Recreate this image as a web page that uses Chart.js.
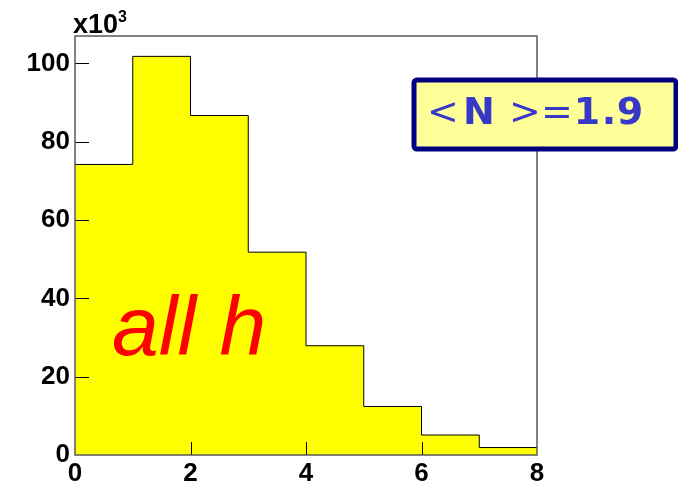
<!DOCTYPE html>
<html>
<head>
<meta charset="utf-8">
<title>Multiplicity</title>
<script src="https://cdn.jsdelivr.net/npm/chart.js@4.4.1/dist/chart.umd.min.js"></script>
<style>
  html, body { margin: 0; padding: 0; background: #ffffff; }
  #wrap { width: 678px; height: 486px; }
</style>
</head>
<body>
<div id="wrap"><canvas id="myChart" width="678" height="486"></canvas></div>
<script>
'use strict';

// bin edges and counts per bin (units of 10^3)
var binEdges = [0, 1, 2, 3, 4, 5, 6, 7, 8];
var binCounts = [74.2, 101.8, 86.7, 51.8, 27.9, 12.4, 5.1, 1.9];
var xTicks = [0, 2, 4, 6, 8];
var yTicks = [0, 20, 40, 60, 80, 100];
var meanLabel = ['<', 'N', '>', '=', '1', '.', '9'];
var histLabel = 'all h';

// stepped line needs one extra point to close the last bin
var points = [];
for (var i = 0; i < binEdges.length; i++) {
  var c = i < binCounts.length ? binCounts[i] : binCounts[binCounts.length - 1];
  points.push({ x: binEdges[i], y: c });
}

// frame, inside tick marks and the text boxes
var decorations = {
  id: 'decorations',
  afterDatasetsDraw: function (chart) {
    var ctx = chart.ctx;
    var area = chart.chartArea;
    var xs = chart.scales.x;
    var ys = chart.scales.y;
    ctx.save();

    ctx.strokeStyle = '#000000';
    ctx.lineWidth = 1;
    ctx.beginPath();
    yTicks.forEach(function (v) {
      if (v === 0) return;
      var py = Math.round(ys.getPixelForValue(v)) + 0.5;
      ctx.moveTo(area.left, py);
      ctx.lineTo(area.left + 14, py);
    });
    xTicks.forEach(function (v) {
      if (v === 0 || v === 8) return;
      var px = Math.round(xs.getPixelForValue(v)) + 0.5;
      ctx.moveTo(px, area.bottom);
      ctx.lineTo(px, area.bottom - 13);
    });
    ctx.stroke();

    ctx.strokeStyle = '#5a5a5a';
    ctx.lineWidth = 1.5;
    ctx.strokeRect(area.left, area.top, area.right - area.left, area.bottom - area.top);
    ctx.restore();
  },
  afterDraw: function (chart) {
    var ctx = chart.ctx;
    ctx.save();

    // x10^3 exponent label
    ctx.fillStyle = '#000000';
    ctx.textBaseline = 'alphabetic';
    ctx.textAlign = 'left';
    ctx.font = 'bold 27px "Liberation Sans", Arial, sans-serif';
    ctx.fillText('x10', 73, 33);
    ctx.font = 'bold 16px "Liberation Sans", Arial, sans-serif';
    ctx.fillText('3', 118, 22);

    // histogram label
    ctx.fillStyle = '#ff0000';
    ctx.font = 'italic 84px "Liberation Sans", Arial, sans-serif';
    ctx.fillText(histLabel, 112, 355);

    // mean multiplicity box
    ctx.fillStyle = '#ffff99';
    ctx.strokeStyle = '#000080';
    ctx.lineWidth = 5;
    ctx.beginPath();
    ctx.roundRect(414, 80, 262, 69, 3);
    ctx.fill();
    ctx.stroke();

    ctx.fillStyle = '#3838c8';
    ctx.textAlign = 'center';
    ctx.textBaseline = 'middle';
    var centres = [443, 479, 525, 557, 587, 609, 630];
    meanLabel.forEach(function (s, k) {
      var thin = s === '<' || s === '>' || s === '=';
      ctx.font = (thin ? '' : 'bold ') + '38px "DejaVu Sans", sans-serif';
      ctx.fillText(s, centres[k], 114);
    });
    ctx.restore();
  }
};

var ctx = document.getElementById('myChart').getContext('2d');
var chart = new Chart(ctx, {
  type: 'line',
  data: {
    datasets: [{
      data: points,
      stepped: 'before',
      fill: 'origin',
      backgroundColor: '#ffff00',
      borderColor: '#000000',
      borderWidth: 1,
      pointRadius: 0,
      tension: 0
    }]
  },
  options: {
    responsive: false,
    animation: false,
    events: [],
    layout: { padding: { top: 36, right: 141, left: 0, bottom: 0 } },
    plugins: { legend: { display: false }, tooltip: { enabled: false } },
    scales: {
      x: {
        type: 'linear',
        min: 0,
        max: 8,
        grid: { display: false, drawTicks: false },
        border: { display: false },
        ticks: {
          stepSize: 2,
          padding: 3,
          color: '#000000',
          font: { family: '"Liberation Sans", Arial, sans-serif', size: 26, weight: 'bold' }
        },
        afterFit: function (s) { s.height = 31; }
      },
      y: {
        min: 0,
        max: 107,
        grid: { display: false, drawTicks: false },
        border: { display: false },
        ticks: {
          stepSize: 20,
          includeBounds: false,
          padding: 5,
          color: '#000000',
          font: { family: '"Liberation Sans", Arial, sans-serif', size: 26, weight: 'bold' }
        },
        afterFit: function (s) { s.width = 75; }
      }
    }
  },
  plugins: [decorations]
});
</script>
</body>
</html>
